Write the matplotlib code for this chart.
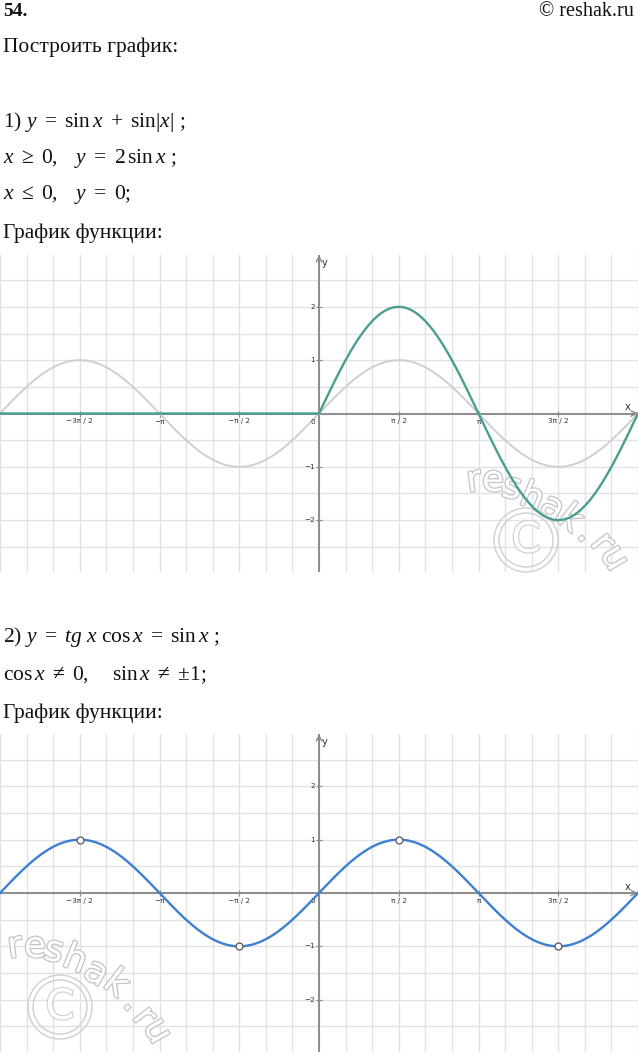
import numpy as np
import matplotlib.pyplot as plt
import matplotlib.patheffects as pe
from matplotlib.patches import Circle

W, H = 638, 1052

# tick positions / labels shared by both graphs
x_ticks = [-3 * np.pi / 2, -np.pi, -np.pi / 2, np.pi / 2, np.pi, 3 * np.pi / 2]
x_tick_labels = ['−3π / 2', '−π', '−π / 2', 'π / 2', 'π', '3π / 2']
y_ticks = [-2, -1, 1, 2]
y_tick_labels = ['−2', '−1', '1', '2']

# x range of the plotted functions
x_min, x_max = -2 * np.pi, 2 * np.pi
# excluded points of y = tg x cos x (sin x = ±1)
holes_x = [-3 * np.pi / 2, -np.pi / 2, np.pi / 2, 3 * np.pi / 2]
holes_y = [1, -1, 1, -1]

GRID = '#e2e2e2'
AXIS = '#8c8c8c'
TEAL = '#4a9e91'
BLUE = '#3d7fd1'
LIGHT = '#cfcfcf'

plt.rcParams['mathtext.fontset'] = 'custom'
plt.rcParams['mathtext.rm'] = 'Liberation Serif'
plt.rcParams['mathtext.it'] = 'Liberation Serif:italic'
plt.rcParams['mathtext.bf'] = 'Liberation Serif:bold'

fig = plt.figure(figsize=(W / 100, H / 100), dpi=100)


def ftext(x, y, s, **kw):
    opts = dict(fontsize=15.5, family='Liberation Serif', va='center', ha='left', color='#111111')
    opts.update(kw)
    fig.text(x / W, 1 - y / H, s, **opts)


ftext(3, 12, '54.', fontsize=14, fontweight='bold')
ftext(634, 11, '© reshak.ru', ha='right', fontsize=14.5)
ftext(3, 47, 'Построить график:')
ftext(3, 122, r'1) $y\ =\ \mathrm{sin}\,x\ +\ \mathrm{sin}|x|$ ;')
ftext(3, 158, r'$x\ \geq\ 0,\ \ \ y\ =\ 2\,\mathrm{sin}\,x$ ;')
ftext(3, 195, r'$x\ \leq\ 0,\ \ \ y\ =\ 0;$')
ftext(3, 233, 'График функции:')
ftext(3, 637, r'2) $y\ =\ tg\ x\ \mathrm{cos}\,x\ =\ \mathrm{sin}\,x$ ;')
ftext(3, 675, r'$\mathrm{cos}\,x\ \neq\ 0,\ \ \ \ \mathrm{sin}\,x\ \neq\ {\pm}1;$')
ftext(3, 713, 'График функции:')


def make_axes(top, bottom):
    ax = fig.add_axes([0, 1 - bottom / H, 1, (bottom - top) / H])
    ax.set_xlim(x_min, x_max)
    half = (bottom - top) / 2 / 53.33
    ax.set_ylim(-half, half)
    for s in ax.spines.values():
        s.set_visible(False)
    ax.set_xticks([])
    ax.set_yticks([])
    for gx in np.arange(-12, 13) * np.pi / 6:
        ax.axvline(gx, color=GRID, lw=1.0, zorder=0)
    for gy in np.arange(-5, 6) * 0.5:
        ax.axhline(gy, color=GRID, lw=1.0, zorder=0)
    ax.axhline(0, color=AXIS, lw=1.4, zorder=1)
    ax.axvline(0, color=AXIS, lw=1.4, zorder=1)
    ax.plot(x_ticks, [0] * len(x_ticks), ls='none', marker='|', ms=4, mew=0.8, color=AXIS, zorder=1)
    ax.plot([0] * len(y_ticks), y_ticks, ls='none', marker='_', ms=4, mew=0.8, color=AXIS, zorder=1)
    ax.annotate('', xy=(x_max, 0), xytext=(x_max - 0.15, 0),
                arrowprops=dict(arrowstyle='->', color=AXIS, lw=1.0, shrinkA=0, shrinkB=0), zorder=1)
    ax.annotate('', xy=(0, half), xytext=(0, half - 0.15),
                arrowprops=dict(arrowstyle='->', color=AXIS, lw=1.0, shrinkA=0, shrinkB=0), zorder=1)
    for tx, tl in zip(x_ticks, x_tick_labels):
        ax.annotate(tl, (tx, 0), xytext=(0, -8), textcoords='offset pixels',
                    ha='center', va='center', fontsize=5.2, color='#333333')
    ax.annotate('0', (0, 0), xytext=(-6, -8), textcoords='offset pixels',
                ha='center', va='center', fontsize=5.2, color='#333333')
    for ty, tl in zip(y_ticks, y_tick_labels):
        ax.annotate(tl, (0, ty), xytext=(-4, 0), textcoords='offset pixels',
                    ha='right', va='center', fontsize=5.2, color='#333333')
    ax.annotate('x', (x_max, 0), xytext=(-10, 6), textcoords='offset pixels',
                ha='center', va='center', fontsize=7, color='#333333')
    ax.annotate('y', (0, half), xytext=(6, -8), textcoords='offset pixels',
                ha='center', va='center', fontsize=7, color='#333333')
    return ax


def watermark(ax, letters, ring):
    for (px, py, ang), ch in zip(letters, 'reshak.ru'):
        ax.text(px / W, 1 - py / H, ch, transform=fig.transFigure, fontsize=26,
                family='DejaVu Sans', color='white', rotation=ang, ha='center', va='center',
                zorder=1.5, clip_on=False,
                path_effects=[pe.withStroke(linewidth=1.8, foreground='#c4c4c4')])
    cx, cy, r = ring
    for rr in (r, r - 5):
        ax.add_patch(Circle((cx / 100, (H - cy) / 100), rr / 100, transform=fig.dpi_scale_trans,
                            fill=False, ec='#cfcfcf', lw=1.0, zorder=1.5, clip_on=False))
    ax.text(cx / W, 1 - cy / H, 'C', transform=fig.transFigure, fontsize=30, family='DejaVu Sans',
            color='white', ha='center', va='center', zorder=1.5, clip_on=False,
            path_effects=[pe.withStroke(linewidth=1.6, foreground='#cfcfcf')])


xs = np.linspace(x_min, x_max, 1200)

# graph 1: y = sin x + sin|x|
ax1 = make_axes(255, 572)
ax1.plot(xs, np.sin(xs), color=LIGHT, lw=1.4, zorder=2)
ax1.plot(xs, np.sin(xs) + np.sin(np.abs(xs)), color=TEAL, lw=1.7, zorder=3)
watermark(ax1,
          [(474, 481, 8), (493, 481, 0), (512, 488, -12), (532, 498, -22), (552, 508, -30),
           (570, 519, -38), (587, 533, -45), (602, 543, -52), (614, 558, -60)],
          (526, 540, 32))

# graph 2: y = tg x cos x = sin x
ax2 = make_axes(734, 1052)
ax2.plot(xs, np.sin(xs), color=BLUE, lw=1.7, zorder=3)
ax2.plot(holes_x, holes_y, ls='none', marker='o', ms=5, mfc='white', mec='#555555', mew=0.9, zorder=4)
watermark(ax2,
          [(15, 947, 8), (35, 947, 0), (54, 951, -12), (75, 960, -22), (96, 973, -30),
           (116, 984, -38), (133, 1002, -45), (144, 1017, -52), (157, 1031, -60)],
          (60, 1007, 32))

fig.savefig('out.png', dpi=100)
